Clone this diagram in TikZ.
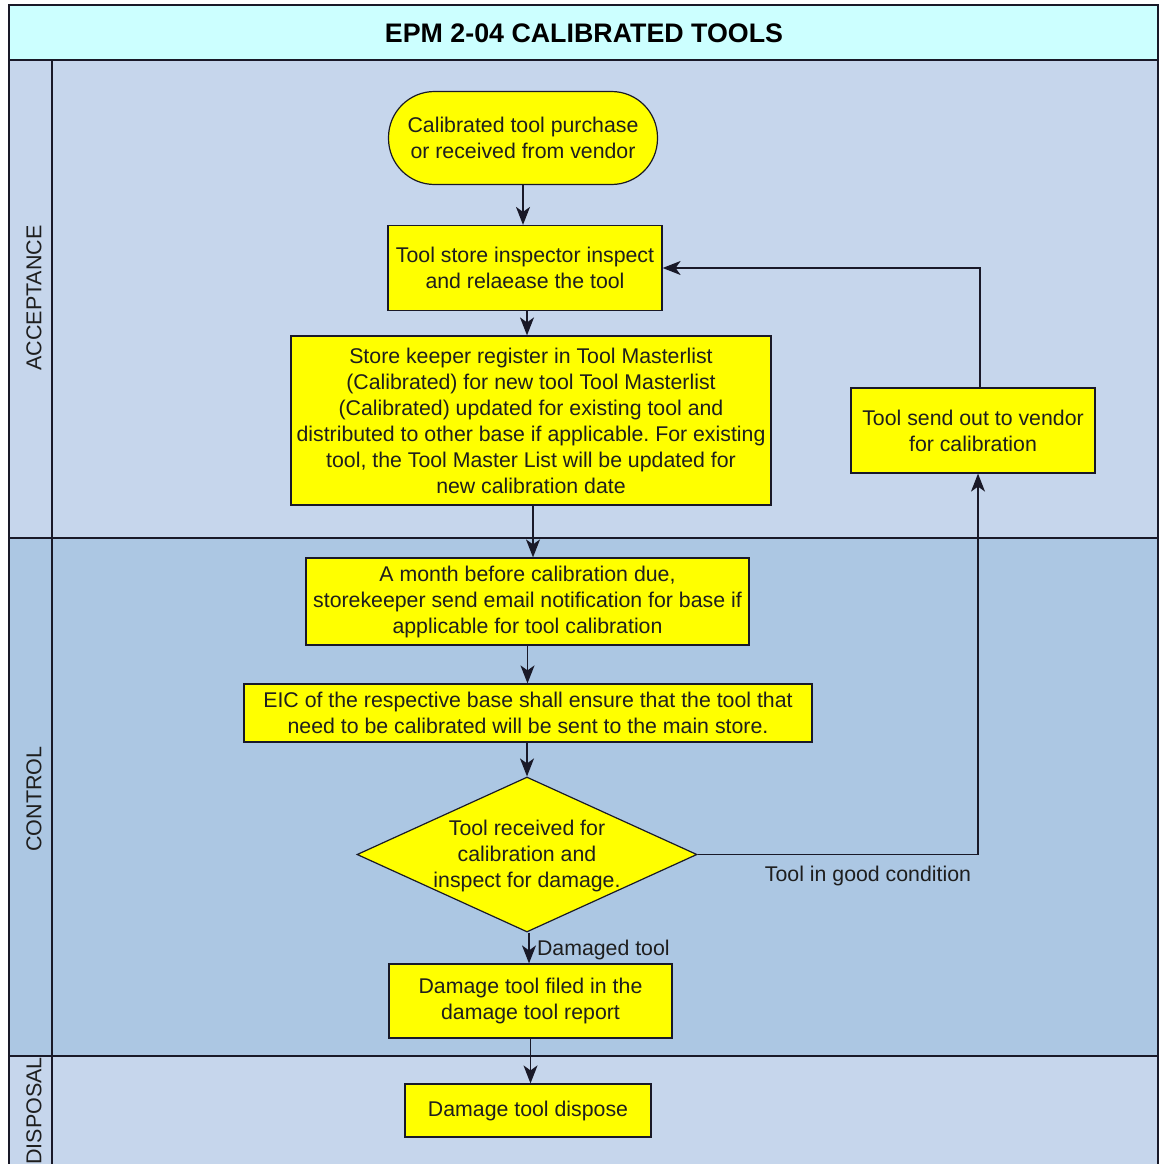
\documentclass[tikz,border=0pt]{standalone}
\usepackage{fontspec}
\setmainfont{Liberation Sans}
\frenchspacing
\usetikzlibrary{shapes.geometric,arrows.meta}
\definecolor{titlebg}{RGB}{204,255,255}
\definecolor{lanelight}{RGB}{198,214,236}
\definecolor{lanedark}{RGB}{172,199,227}
\definecolor{boxfill}{RGB}{255,255,0}
\definecolor{linec}{RGB}{25,25,40}
\definecolor{txt}{RGB}{30,30,30}
\tikzset{
  stepbox/.style={draw=linec, line width=1.2pt, fill=boxfill, align=center, inner sep=0pt,
    font=\fontsize{21.3}{26}\selectfont, text=txt},
  conn/.style={draw=linec, line width=1.5pt, -{Stealth[length=18pt,width=14pt,inset=5pt]}},
  lanelabel/.style={rotate=90, font=\fontsize{21.5}{24}\selectfont, text=txt},
  edgelabel/.style={font=\fontsize{21.3}{24}\selectfont, text=txt},
  frame/.style={draw=linec, line width=1.2pt}
}
\begin{document}
\begin{tikzpicture}[x=1pt,y=-1pt]
\useasboundingbox (0,0) rectangle (1160,1164);
\begin{scope}
\clip (0,0) rectangle (1160,1164);
% title band
\path[fill=titlebg, frame] (9,5) rectangle (1158,60);
\node[font=\bfseries\fontsize{26.8}{30}\selectfont, text=black] (title) at (584,33) {EPM 2-04 CALIBRATED TOOLS};
% lanes
\path[fill=lanelight, frame] (9,60) rectangle (1158,538);
\path[fill=lanedark, frame] (9,538) rectangle (1158,1056);
\path[fill=lanelight, frame] (9,1056) rectangle (1158,1200);
\draw[frame] (52,60) -- (52,1200);
\node[lanelabel] (l1) at (34,298) {ACCEPTANCE};
\node[lanelabel] (l2) at (34,799) {CONTROL};
\node[lanelabel] (l3) at (34,1111) {DISPOSAL};
\end{scope}
% nodes
\node[stepbox, rounded corners=46pt, minimum width=269pt, minimum height=93pt] (start) at (523,138)
  {Calibrated tool purchase\\or received from vendor};
\node[stepbox, minimum width=274pt, minimum height=85pt] (b2) at (525,268)
  {Tool store inspector inspect\\and relaease the tool};
\node[stepbox, minimum width=480pt, minimum height=169pt] (b3) at (531,420.5)
  {Store keeper register in Tool Masterlist\\(Calibrated) for new tool Tool Masterlist\\(Calibrated) updated for existing tool and\\distributed to other base if applicable. For existing\\tool, the Tool Master List will be updated for\\new calibration date};
\node[stepbox, minimum width=244pt, minimum height=85pt] (b4) at (973,430.5)
  {Tool send out to vendor\\for calibration};
\node[stepbox, minimum width=443pt, minimum height=87pt] (b5) at (527.5,601.5)
  {A month before calibration due,\\storekeeper send email notification for base if\\applicable for tool calibration};
\node[stepbox, minimum width=568pt, minimum height=58pt] (b6) at (528,713)
  {EIC of the respective base shall ensure that the tool that\\need to be calibrated will be sent to the main store.};
\node[diamond, draw=linec, line width=1.2pt, fill=boxfill, inner sep=0pt,
  minimum width=340pt, minimum height=155pt] (dia) at (527,854.5) {};
\node[align=center, font=\fontsize{21.3}{26}\selectfont, text=txt] (diat) at (527,856)
  {Tool received for\\calibration and\\inspect for damage.};
\node[stepbox, minimum width=283pt, minimum height=74pt] (b7) at (530.5,1001)
  {Damage tool filed in the\\damage tool report};
\node[stepbox, minimum width=246pt, minimum height=53pt] (b8) at (528,1110.5)
  {Damage tool dispose};
% connectors
\draw[conn] (start.south) -- (start.south |- b2.north);
\draw[conn] ([xshift=2pt]b2.south) -- ([xshift=2pt]b2.south |- b3.north);
\draw[conn] ([xshift=2pt]b3.south) -- ([xshift=2pt]b3.south |- b5.north);
\draw[conn] (b5.south) -- (b5.south |- b6.north);
\draw[conn] (dia.north |- b6.south) -- (dia.north);
\draw[conn] ([xshift=2pt]dia.south) -- ([xshift=2pt]dia.south |- b7.north)
  node[edgelabel, anchor=west, pos=0.55, xshift=4pt] (lbl1) {Damaged tool};
\draw[conn] (b7.south) -- (b7.south |- b8.north);
\draw[conn] (dia.east) -| ([xshift=5pt]b4.south);
\node[edgelabel] (lbl2) at (868,876) {Tool in good condition};
\draw[conn] ([xshift=7pt]b4.north) |- (b2.east);
\end{tikzpicture}
\end{document}
